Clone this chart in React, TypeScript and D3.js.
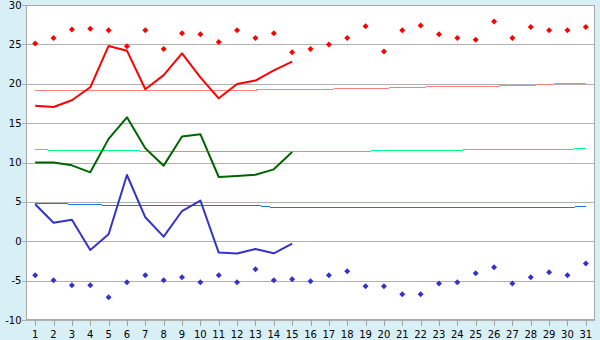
import React, { useEffect } from "react";
import * as d3 from "d3";

const days: number[] = d3.range(1, 32);
const yTicks: number[] = [-10, -5, 0, 5, 10, 15, 20, 25, 30];

const maxRecord: number[] = [25.1, 25.8, 26.9, 27.0, 26.8, 24.75, 26.8, 24.4, 26.4, 26.3, 25.3, 26.8, 25.8, 26.4, 24.0, 24.4, 25.0, 25.8, 27.3, 24.1, 26.8, 27.4, 26.3, 25.8, 25.6, 27.9, 25.8, 27.2, 26.8, 26.8, 27.2];
const minRecord: number[] = [-4.33, -4.96, -5.6, -5.6, -7.1, -5.2, -4.33, -4.96, -4.57, -5.2, -4.33, -5.2, -3.57, -4.96, -4.82, -5.09, -4.33, -3.82, -5.73, -5.73, -6.74, -6.74, -5.35, -5.2, -4.07, -3.31, -5.35, -4.57, -3.94, -4.33, -2.82];

const maxTemp: number[] = [17.2, 17.05, 17.9, 19.55, 24.8, 24.2, 19.3, 21.1, 23.85, 20.8, 18.15, 19.97, 20.4, 21.7, 22.8];
const meanTemp: number[] = [10.0, 10.0, 9.64, 8.75, 13.0, 15.74, 11.8, 9.6, 13.3, 13.6, 8.16, 8.3, 8.45, 9.13, 11.33];
const minTemp: number[] = [4.69, 2.35, 2.73, -1.1, 0.88, 8.41, 3.04, 0.58, 3.84, 5.17, -1.44, -1.56, -0.98, -1.53, -0.31];

const normalMax: number[] = [19.15, 19.15, 19.15, 19.15, 19.15, 19.15, 19.15, 19.2, 19.2, 19.2, 19.2, 19.2, 19.2, 19.3, 19.3, 19.3, 19.3, 19.42, 19.42, 19.42, 19.55, 19.55, 19.68, 19.68, 19.68, 19.68, 19.8, 19.8, 19.93, 20.06, 20.06];
const normalMean: number[] = [11.67, 11.55, 11.55, 11.55, 11.55, 11.55, 11.42, 11.42, 11.42, 11.42, 11.42, 11.42, 11.42, 11.42, 11.42, 11.42, 11.42, 11.42, 11.42, 11.55, 11.55, 11.55, 11.55, 11.55, 11.67, 11.67, 11.67, 11.67, 11.67, 11.67, 11.8];
const normalMin: number[] = [4.83, 4.83, 4.7, 4.7, 4.55, 4.55, 4.55, 4.55, 4.55, 4.55, 4.55, 4.55, 4.55, 4.3, 4.3, 4.3, 4.3, 4.3, 4.3, 4.3, 4.3, 4.3, 4.3, 4.3, 4.3, 4.3, 4.3, 4.3, 4.3, 4.3, 4.42];

const W = 600;
const H = 340;
const left = 26;
const right = 595;
const top = 5;
const bottom = 320;
const font = "'DejaVu Sans', Verdana, sans-serif";

export default function App() {
  useEffect(() => {
    document.body.style.margin = "0";
  }, []);

  const x = d3.scaleBand<number>().domain(days).range([left, right]).padding(0);
  const cx = (d: number) => (x(d) as number) + x.bandwidth() / 2;
  const y = d3.scaleLinear().domain([-10, 30]).range([bottom, top]);

  const line = d3
    .line<number>()
    .x((_, i) => cx(days[i]))
    .y((v) => y(v));

  const diamond = (px: number, py: number) =>
    `M${px},${py - 3}L${px + 3},${py}L${px},${py + 3}L${px - 3},${py}Z`;

  return (
    <svg width={W} height={H} style={{ display: "block", position: "absolute", left: 0, top: 0 }}>
      <rect x={0} y={0} width={W} height={H} fill="#d9eff6" />
      <rect x={left} y={top} width={right - left} height={bottom - top} fill="#ffffff" />
      {yTicks.map((t) => (
        <g key={t} shapeRendering="crispEdges">
          <line x1={left - 4} x2={right} y1={Math.round(y(t)) + 0.5} y2={Math.round(y(t)) + 0.5} stroke="#b0b0b0" strokeWidth={1} />
          <text x={21.5} y={y(t)} dy="0.36em" textAnchor="end" fontFamily={font} fontSize={10} fill="#000">
            {t}
          </text>
        </g>
      ))}
      <rect x={left + 0.5} y={top + 0.5} width={right - left - 1} height={bottom - top - 1} fill="none" stroke="#a8a8a8" strokeWidth={1} shapeRendering="crispEdges" />
      {days.map((d) => (
        <g key={d} shapeRendering="crispEdges">
          <line x1={Math.round(cx(d)) + 0.5} x2={Math.round(cx(d)) + 0.5} y1={bottom} y2={bottom + 6} stroke="#a0a0a0" />
          <text x={cx(d)} y={338} textAnchor="middle" fontFamily={font} fontSize={10} fill="#000">
            {d}
          </text>
        </g>
      ))}
      <g fill="none" shapeRendering="crispEdges">
        <path d={line(normalMax) || ""} stroke="#ff8080" strokeWidth={1} />
        <path d={line(normalMean) || ""} stroke="#00ff80" strokeWidth={1} />
        <path d={line(normalMin) || ""} stroke="#1a75e6" strokeWidth={1} />
      </g>
      <g fill="none" strokeLinejoin="round">
        <path d={line(maxTemp) || ""} stroke="#ff0000" strokeWidth={2} />
        <path d={line(meanTemp) || ""} stroke="#006400" strokeWidth={2} />
        <path d={line(minTemp) || ""} stroke="#3333cc" strokeWidth={2} />
      </g>
      <g>
        {maxRecord.map((v, i) => (
          <path key={"r" + i} d={diamond(cx(days[i]), y(v))} fill="#ff0000" />
        ))}
        {minRecord.map((v, i) => (
          <path key={"b" + i} d={diamond(cx(days[i]), y(v))} fill="#3333cc" />
        ))}
      </g>
    </svg>
  );
}
